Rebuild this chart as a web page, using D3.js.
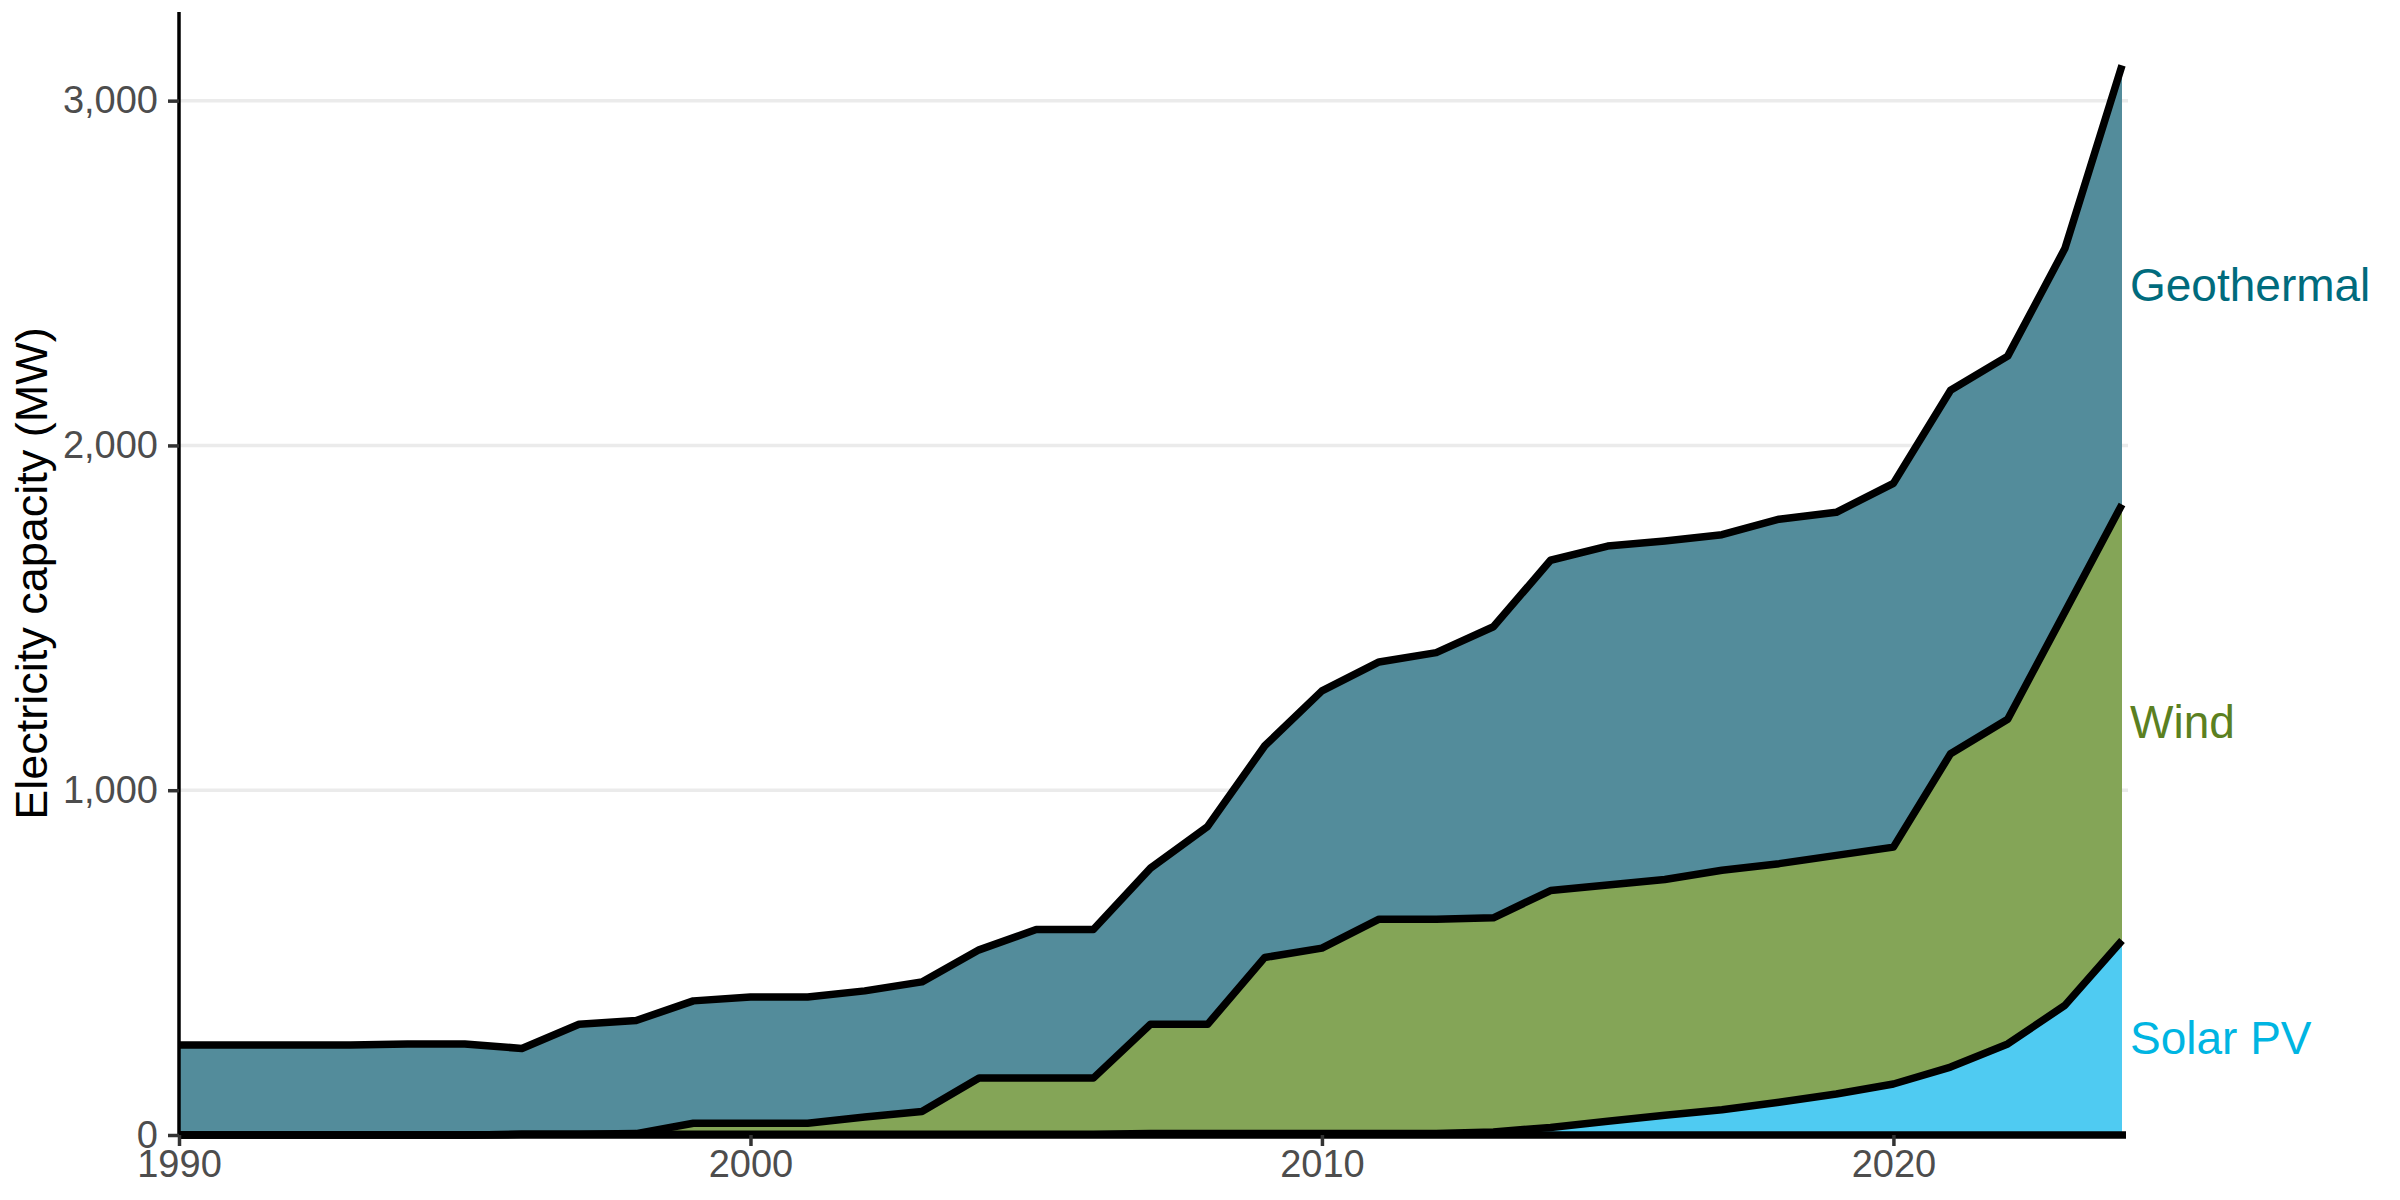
<!DOCTYPE html>
<html>
<head>
<meta charset="utf-8">
<script src="https://cdn.jsdelivr.net/npm/d3@7"></script>
<style>
  html, body { margin: 0; padding: 0; background: #fff; }
  svg { display: block; }
</style>
</head>
<body>
<div id="chart"></div>
<script>
// Installed capacity by source, MW
const years = [1990, 1991, 1992, 1993, 1994, 1995, 1996, 1997, 1998, 1999,
               2000, 2001, 2002, 2003, 2004, 2005, 2006, 2007, 2008, 2009,
               2010, 2011, 2012, 2013, 2014, 2015, 2016, 2017, 2018, 2019,
               2020, 2021, 2022, 2023, 2024];

const solarPV = [0, 0, 0, 0, 0, 0, 2, 2, 2, 2,
                 2, 2, 2, 2, 2, 2, 2, 4, 4, 4,
                 4, 4, 4, 9, 22, 40, 57, 73, 95, 119,
                 148, 197, 264, 376, 564];

const wind = [0, 0, 0, 0, 0, 0, 0, 0, 2, 32,
              32, 32, 50, 66, 163, 163, 163, 317, 317, 511,
              538, 622, 622, 621, 687, 685, 684, 695, 692, 692,
              687, 909, 942, 1141, 1265];

const geothermal = [261, 261, 261, 261, 264, 264, 249, 319, 328, 355,
                    366, 366, 366, 376, 372, 431, 431, 453, 574, 614,
                    746, 746, 773, 844, 958, 983, 982, 973, 999, 995,
                    1055, 1054, 1053, 1054, 1273];

const seriesNames = ["Solar PV", "Wind", "Geothermal"];
const fillColors = ["#4fcbf2", "#84a557", "#538c9b"];
const labelColors = ["#00b5e2", "#5b8021", "#006b7d"];
const yTicks = [0, 1000, 2000, 3000];
const xTicks = [1990, 2000, 2010, 2020];

const width = 2400, height = 1200;
const margin = {top: 12, right: 278, bottom: 65, left: 179};

const rows = years.map((y, i) => ({
  year: y,
  "Solar PV": solarPV[i],
  "Wind": wind[i],
  "Geothermal": geothermal[i]
}));

const layers = d3.stack().keys(seriesNames)(rows);

const x = d3.scaleLinear()
  .domain(d3.extent(years))
  .range([margin.left, width - margin.right]);

const yMax = d3.max(layers[layers.length - 1], d => d[1]) * 1.05;
const y = d3.scaleLinear()
  .domain([0, yMax])
  .range([height - margin.bottom, margin.top]);

const svg = d3.select("#chart").append("svg")
  .attr("width", width)
  .attr("height", height)
  .attr("font-family", "'Liberation Sans', Arial, sans-serif");

// gridlines
svg.append("g")
  .selectAll("line")
  .data(yTicks.filter(d => d > 0))
  .join("line")
  .attr("x1", margin.left)
  .attr("x2", x(2024) + 6)
  .attr("y1", d => y(d))
  .attr("y2", d => y(d))
  .attr("stroke", "#ebebeb")
  .attr("stroke-width", 3.5);

// areas
const area = d3.area()
  .x(d => x(d.data.year))
  .y0(d => y(d[0]))
  .y1(d => y(d[1]));

svg.append("g")
  .selectAll("path")
  .data(layers)
  .join("path")
  .attr("fill", (d, i) => fillColors[i])
  .attr("d", area);

// outlines on top of every band
const line = d3.line()
  .x(d => x(d.data.year))
  .y(d => y(d[1]));

svg.append("g")
  .selectAll("path")
  .data(layers)
  .join("path")
  .attr("fill", "none")
  .attr("stroke", "#000")
  .attr("stroke-width", 7.5)
  .attr("stroke-linejoin", "round")
  .attr("d", line);

// baseline
svg.append("line")
  .attr("x1", margin.left)
  .attr("x2", x(2024) + 4)
  .attr("y1", y(0))
  .attr("y2", y(0))
  .attr("stroke", "#000")
  .attr("stroke-width", 7.5);

// y axis
const yAxis = svg.append("g")
  .attr("transform", `translate(${margin.left},0)`)
  .call(d3.axisLeft(y)
    .tickValues(yTicks)
    .tickSize(11)
    .tickPadding(10)
    .tickFormat(d3.format(",")));
yAxis.select(".domain")
  .attr("stroke", "#000")
  .attr("stroke-width", 3.5)
  .attr("d", `M0,${y(yMax)}V${y(0)}`);
yAxis.selectAll(".tick line").attr("stroke", "#333").attr("stroke-width", 3.5);
yAxis.selectAll(".tick text")
  .attr("fill", "#4d4d4d")
  .attr("font-size", 38);

// x axis
const xAxis = svg.append("g")
  .attr("transform", `translate(0,${y(0)})`)
  .call(d3.axisBottom(x)
    .tickValues(xTicks)
    .tickSize(11)
    .tickPadding(4)
    .tickFormat(d3.format("d")));
xAxis.select(".domain").remove();
xAxis.selectAll(".tick line").attr("stroke", "#333").attr("stroke-width", 3.5);
xAxis.selectAll(".tick text")
  .attr("fill", "#4d4d4d")
  .attr("font-size", 38);

// axis title
svg.append("text")
  .attr("transform", `translate(31,${(y(0) + y(yMax)) / 2}) rotate(-90)`)
  .attr("text-anchor", "middle")
  .attr("dominant-baseline", "central")
  .attr("font-size", 45)
  .attr("fill", "#000")
  .text("Electricity capacity (MW)");

// direct labels at the middle of each band in the last year
const last = years.length - 1;
svg.append("g")
  .selectAll("text")
  .data(layers)
  .join("text")
  .attr("x", x(years[last]) + 8)
  .attr("y", d => y((d[last][0] + d[last][1]) / 2))
  .attr("dominant-baseline", "central")
  .attr("font-size", 46)
  .attr("fill", (d, i) => labelColors[i])
  .text(d => d.key);
</script>
</body>
</html>
